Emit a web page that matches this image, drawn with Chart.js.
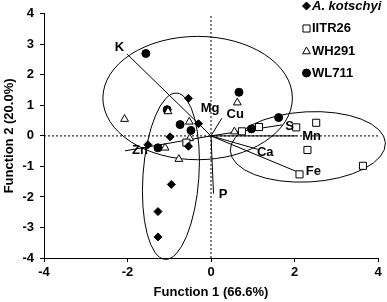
<!DOCTYPE html>
<html>
<head>
<meta charset="utf-8">
<script src="https://cdn.jsdelivr.net/npm/chart.js@4.4.1/dist/chart.umd.min.js"></script>
<style>
html, body { margin: 0; padding: 0; background: #fff; }
#graph { width: 387px; height: 302px; }
</style>
</head>
<body>
<div id="graph"></div>
<script>
// Données
var groupNames = ['A. kotschyi', 'IITR26', 'WH291', 'WL711'];

var kotschyiX = [-0.54, -0.30, -0.98, -0.54, -1.51, -0.95, -1.27, -1.27];
var kotschyiY = [1.23, 0.40, -0.03, -0.34, -0.29, -1.59, -2.48, -3.31];

var iitr26X = [-0.59, 0.74, 1.15, 2.04, 2.52, 2.31, 2.12, 3.64];
var iitr26Y = [-0.22, 0.15, 0.29, 0.28, 0.43, -0.46, -1.26, -0.98];

var wh291X = [-1.03, -2.07, -0.52, -0.51, -1.10, -0.77, 0.56, 0.63];
var wh291Y = [0.80, 0.55, 0.46, -0.08, -0.39, -0.76, 0.14, 1.09];

var wl711X = [-1.56, -1.05, -0.74, -0.48, -1.27, 0.67, 1.62, 0.97];
var wl711Y = [2.70, 0.86, 0.37, 0.18, -0.39, 1.43, 0.60, 0.23];

// Vecteurs des éléments (depuis l'origine)
var vectorNames = ['K', 'Mg', 'S', 'Mn', 'Ca', 'Fe', 'P', 'Zn'];
var vectorX = [-2.01, 0.26, 1.70, 2.05, 1.12, 2.09, 0.06, -2.06];
var vectorY = [2.68, 0.58, 0.36, 0.00, -0.44, -1.19, -1.89, -0.49];

// Étiquettes des éléments
var labelNames = ['K', 'Mg', 'Cu', 'S', 'Mn', 'Ca', 'Fe', 'P', 'Zn'];
var labelX = [-2.19, -0.02, 0.58, 1.88, 2.41, 1.30, 2.45, 0.29, -1.70];
var labelY = [2.91, 0.90, 0.72, 0.32, -0.03, -0.53, -1.17, -1.93, -0.47];

// Ellipses de confiance : centre, demi-axes (unités des axes), rotation (degrés)
var ellipseCx = [-0.32, -0.96, 2.32];
var ellipseCy = [1.24, -1.32, -0.36];
var ellipseRx = [2.27, 0.67, 1.86];
var ellipseRy = [2.02, 2.73, 1.15];
var ellipseRot = [0, 4, -3];

var xTicks = [-4, -2, 0, 2, 4];
var yTicks = [-4, -3, -2, -1, 0, 1, 2, 3, 4];

var FONT = '"Liberation Sans", Arial, sans-serif';

function toPoints(xs, ys) {
    return xs.map(function (x, i) { return { x: x, y: ys[i] }; });
}

// Préparer le canvas
var graphDiv = document.getElementById('graph');
graphDiv.innerHTML = '';
var canvas = document.createElement('canvas');
canvas.id = 'chartCanvas';
canvas.width = 387;
canvas.height = 302;
graphDiv.appendChild(canvas);

var datasets = [];

// Lignes pointillées à zéro
datasets.push({
    type: 'line', data: [{ x: -4, y: 0 }, { x: 4, y: 0 }],
    borderColor: '#000', borderWidth: 1, borderDash: [2, 2], pointRadius: 0, order: 10
});
datasets.push({
    type: 'line', data: [{ x: 0, y: -4 }, { x: 0, y: 4 }],
    borderColor: '#000', borderWidth: 1, borderDash: [2, 2], pointRadius: 0, order: 10
});

// Vecteurs
vectorNames.forEach(function (name, i) {
    datasets.push({
        type: 'line', data: [{ x: 0, y: 0 }, { x: vectorX[i], y: vectorY[i] }],
        borderColor: '#000', borderWidth: 1, pointRadius: 0, order: 9
    });
});

// Groupes
datasets.push({
    label: groupNames[0], data: toPoints(kotschyiX, kotschyiY),
    pointStyle: 'rectRot', pointRadius: 4, backgroundColor: '#000', borderColor: '#000', borderWidth: 1, order: 1
});
datasets.push({
    label: groupNames[1], data: toPoints(iitr26X, iitr26Y),
    pointStyle: 'rect', pointRadius: 5, backgroundColor: '#fff', borderColor: '#000', borderWidth: 1, order: 1
});
datasets.push({
    label: groupNames[2], data: toPoints(wh291X, wh291Y),
    pointStyle: 'triangle', pointRadius: 4.5, backgroundColor: '#fff', borderColor: '#000', borderWidth: 1, order: 1
});
datasets.push({
    label: groupNames[3], data: toPoints(wl711X, wl711Y),
    pointStyle: 'circle', pointRadius: 4, backgroundColor: '#000', borderColor: '#000', borderWidth: 1, order: 1
});

// Plugin : ellipses, étiquettes et légende
var extras = {
    id: 'extras',
    beforeDatasetsDraw: function (chart) {
        var ctx = chart.ctx, xs = chart.scales.x, ys = chart.scales.y;
        ctx.save();
        ctx.strokeStyle = '#000';
        ctx.lineWidth = 1;
        for (var i = 0; i < ellipseCx.length; i++) {
            var cx = xs.getPixelForValue(ellipseCx[i]);
            var cy = ys.getPixelForValue(ellipseCy[i]);
            var rx = Math.abs(xs.getPixelForValue(ellipseCx[i] + ellipseRx[i]) - cx);
            var ry = Math.abs(ys.getPixelForValue(ellipseCy[i] + ellipseRy[i]) - cy);
            ctx.beginPath();
            ctx.ellipse(cx, cy, rx, ry, ellipseRot[i] * Math.PI / 180, 0, 2 * Math.PI);
            ctx.stroke();
        }
        ctx.restore();
    },
    afterDatasetsDraw: function (chart) {
        var ctx = chart.ctx, xs = chart.scales.x, ys = chart.scales.y;
        ctx.save();
        ctx.fillStyle = '#000';
        ctx.font = 'bold 13px ' + FONT;
        ctx.textAlign = 'center';
        ctx.textBaseline = 'middle';
        labelNames.forEach(function (name, i) {
            ctx.fillText(name, xs.getPixelForValue(labelX[i]), ys.getPixelForValue(labelY[i]));
        });

        // Légende
        var styles = ['rectRot', 'rect', 'triangle', 'circle'];
        var radii = [4, 5, 4.5, 4];
        var fills = ['#000', '#fff', '#fff', '#000'];
        var rowsY = [6, 28.5, 51.5, 73];
        ctx.textAlign = 'left';
        for (var k = 0; k < groupNames.length; k++) {
            ctx.fillStyle = fills[k];
            ctx.strokeStyle = '#000';
            ctx.lineWidth = 1;
            Chart.helpers.drawPoint(ctx, { pointStyle: styles[k], radius: radii[k], rotation: 0, borderWidth: 1 }, 306.5, rowsY[k]);
            ctx.fillStyle = '#000';
            ctx.font = (k === 0 ? 'italic bold 13px ' : 'bold 13px ') + FONT;
            ctx.fillText(groupNames[k], 312, rowsY[k]);
        }
        ctx.restore();
    }
};

var tickFont = { family: FONT, size: 13, weight: 'bold' };
var titleFont = { family: FONT, size: 13, weight: 'bold' };

var chart = new Chart(canvas, {
    type: 'scatter',
    data: { datasets: datasets },
    options: {
        responsive: false,
        animation: false,
        layout: { padding: { top: 10, right: 9, left: 0, bottom: 0 } },
        plugins: { legend: { display: false }, tooltip: { enabled: false } },
        scales: {
            x: {
                type: 'linear', min: -4, max: 4,
                afterBuildTicks: function (s) { s.ticks = xTicks.map(function (v) { return { value: v }; }); },
                afterFit: function (s) { s.height = 44; },
                grid: { drawOnChartArea: false, color: '#000', tickLength: 4 },
                border: { color: '#000' },
                ticks: { color: '#000', font: tickFont, padding: 3, maxRotation: 0 },
                title: { display: true, text: 'Function 1 (66.6%)', color: '#000', font: titleFont, padding: { top: 0, bottom: 2 } }
            },
            y: {
                type: 'linear', min: -4, max: 4,
                afterBuildTicks: function (s) { s.ticks = yTicks.map(function (v) { return { value: v }; }); },
                afterFit: function (s) { s.width = 44; },
                grid: { drawOnChartArea: false, color: '#000', tickLength: 4 },
                border: { color: '#000' },
                ticks: { color: '#000', font: tickFont, padding: 6 },
                title: { display: true, text: 'Function 2 (20.0%)', color: '#000', font: titleFont, padding: { top: 2, bottom: 0 } }
            }
        }
    },
    plugins: [extras]
});
</script>
</body>
</html>
